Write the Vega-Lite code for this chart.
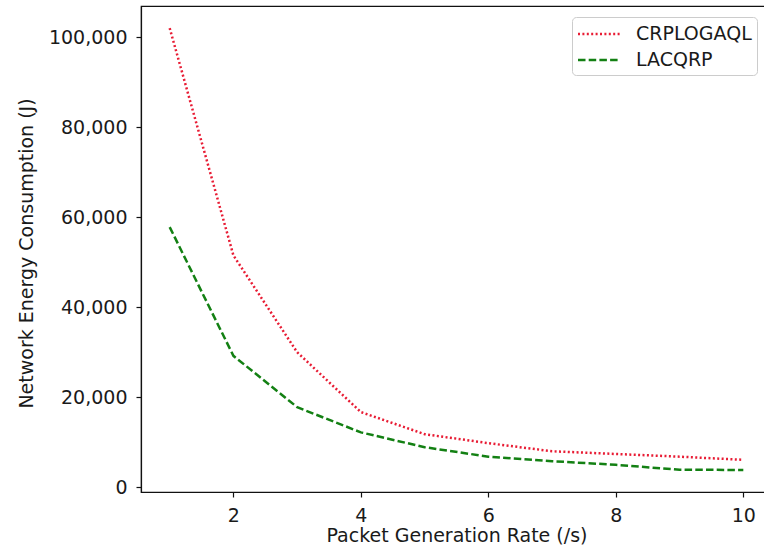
{
  "$schema": "https://vega.github.io/schema/vega-lite/v6.json",
  "autosize": "none",
  "width": 631,
  "height": 486,
  "padding": {"left": 141, "top": 6, "right": 0, "bottom": 66},
  "background": "white",
  "config": {
    "font": "DejaVu Sans",
    "view": {"stroke": "#111111", "strokeWidth": 1.2},
    "axis": {
      "domainColor": "#111111",
      "domainWidth": 1.2,
      "tickColor": "#111111",
      "tickWidth": 1.2,
      "tickSize": 5,
      "grid": false,
      "labelFont": "DejaVu Sans",
      "labelFontSize": 19,
      "labelColor": "#1a1a1a",
      "labelPadding": 9,
      "titleFont": "DejaVu Sans",
      "titleFontSize": 19,
      "titleFontWeight": "normal",
      "titleColor": "#1a1a1a"
    },
    "legend": {
      "labelFont": "DejaVu Sans",
      "labelFontSize": 19,
      "labelColor": "#1a1a1a",
      "symbolType": "M-2,0H2",
      "symbolSize": 441,
      "symbolStrokeWidth": 2.5,
      "symbolFillColor": "transparent",
      "labelOffset": 25,
      "symbolOffset": 10,
      "padding": 5,
      "rowPadding": 4,
      "strokeColor": "#cccccc",
      "fillColor": "white",
      "cornerRadius": 4
    }
  },
  "data": {
    "values": [
      {"rate": 1, "protocol": "CRPLOGAQL", "energy": 102000},
      {"rate": 2, "protocol": "CRPLOGAQL", "energy": 51500},
      {"rate": 3, "protocol": "CRPLOGAQL", "energy": 30000},
      {"rate": 4, "protocol": "CRPLOGAQL", "energy": 16700},
      {"rate": 5, "protocol": "CRPLOGAQL", "energy": 11800},
      {"rate": 6, "protocol": "CRPLOGAQL", "energy": 9800},
      {"rate": 7, "protocol": "CRPLOGAQL", "energy": 8000},
      {"rate": 8, "protocol": "CRPLOGAQL", "energy": 7400},
      {"rate": 9, "protocol": "CRPLOGAQL", "energy": 6800},
      {"rate": 10, "protocol": "CRPLOGAQL", "energy": 6100},
      {"rate": 1, "protocol": "LACQRP", "energy": 57800},
      {"rate": 2, "protocol": "LACQRP", "energy": 29200},
      {"rate": 3, "protocol": "LACQRP", "energy": 17800},
      {"rate": 4, "protocol": "LACQRP", "energy": 12200},
      {"rate": 5, "protocol": "LACQRP", "energy": 8900},
      {"rate": 6, "protocol": "LACQRP", "energy": 6800},
      {"rate": 7, "protocol": "LACQRP", "energy": 5800},
      {"rate": 8, "protocol": "LACQRP", "energy": 5000},
      {"rate": 9, "protocol": "LACQRP", "energy": 3900},
      {"rate": 10, "protocol": "LACQRP", "energy": 3850}
    ]
  },
  "mark": {"type": "line", "strokeWidth": 2.5, "clip": true},
  "encoding": {
    "x": {
      "field": "rate",
      "type": "quantitative",
      "scale": {"domain": [0.55, 10.45], "nice": false, "zero": false},
      "axis": {
        "values": [2, 4, 6, 8, 10],
        "title": "Packet Generation Rate (/s)",
        "titleY": 49,
        "titleBaseline": "alphabetic"
      }
    },
    "y": {
      "field": "energy",
      "type": "quantitative",
      "scale": {"domain": [-1047, 106907], "nice": false, "zero": false},
      "axis": {
        "values": [0, 20000, 40000, 60000, 80000, 100000],
        "format": ",d",
        "title": "Network Energy Consumption (J)",
        "titleX": -109,
        "titleY": 247,
        "titleAngle": -90,
        "titleAlign": "center",
        "titleBaseline": "alphabetic"
      }
    },
    "color": {
      "field": "protocol",
      "type": "nominal",
      "scale": {"domain": ["CRPLOGAQL", "LACQRP"], "range": ["#e81c34", "#138013"]},
      "legend": {"title": null, "orient": "none", "legendX": 431, "legendY": 11}
    },
    "strokeDash": {
      "field": "protocol",
      "type": "nominal",
      "scale": {"domain": ["CRPLOGAQL", "LACQRP"], "range": [[2, 2.4], [7.5, 3.2]]},
      "legend": {"title": null, "orient": "none", "legendX": 431, "legendY": 11}
    }
  }
}
